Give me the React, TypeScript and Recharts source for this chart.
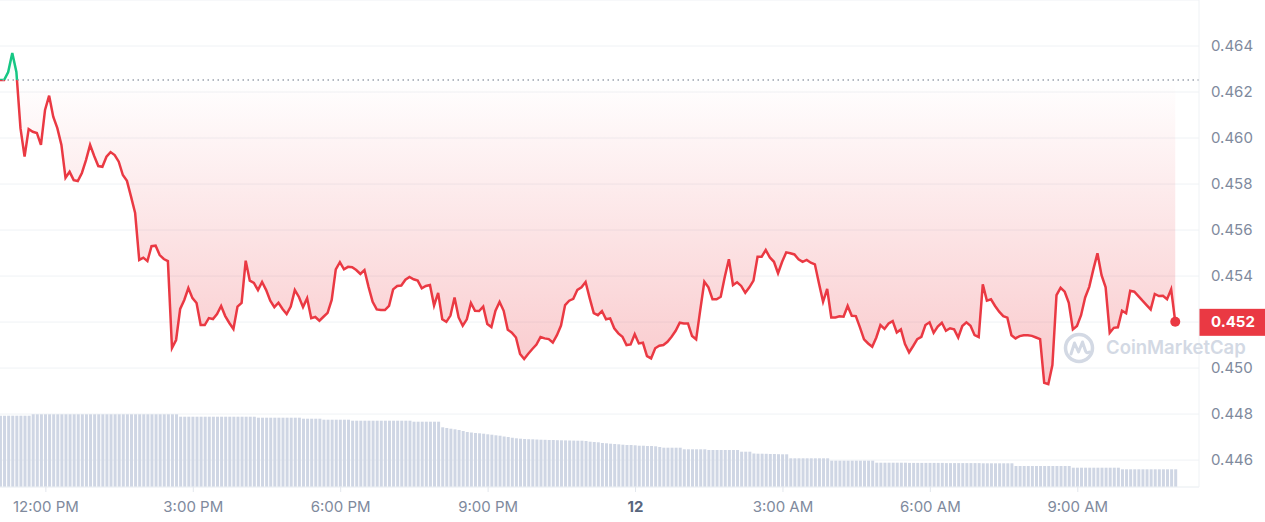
import {
  ComposedChart,
  Area,
  Bar,
  XAxis,
  YAxis,
  CartesianGrid,
  ReferenceLine,
  ReferenceDot,
} from 'recharts';

// 5-minute candles, first one at 11:04 AM (minutes since midnight of day 11)
const startMinute = 664;
const stepMinutes = 5;

const prices = [
  0.46252, 0.46252, 0.46287, 0.4637, 0.46287, 0.46043, 0.45919, 0.46039, 0.46027, 0.46022, 0.4597, 0.46122,
  0.46184, 0.46093, 0.46043, 0.4597, 0.45827, 0.45853, 0.45817, 0.45813, 0.45848, 0.45904, 0.4597, 0.45922,
  0.45878, 0.45875, 0.45919, 0.45939, 0.45926, 0.45897, 0.45839, 0.45814, 0.45745, 0.45674, 0.4547, 0.4548,
  0.45465, 0.4553, 0.45532, 0.45491, 0.45474, 0.45465, 0.45087, 0.45122, 0.45257, 0.45296, 0.45348, 0.45304,
  0.45283, 0.45187, 0.45187, 0.45217, 0.45213, 0.45235, 0.4527, 0.45226, 0.45196, 0.4517, 0.45267, 0.45283,
  0.45467, 0.4538, 0.4537, 0.45339, 0.45374, 0.45339, 0.45293, 0.45265, 0.45284, 0.45257, 0.45235, 0.45267,
  0.45339, 0.45309, 0.45265, 0.45304, 0.45217, 0.45222, 0.45206, 0.45223, 0.4524, 0.45296, 0.45429, 0.4546,
  0.45429, 0.4544, 0.45438, 0.45426, 0.45409, 0.45426, 0.45353, 0.45288, 0.45255, 0.45252, 0.45252, 0.4527,
  0.45342, 0.45357, 0.45359, 0.45384, 0.45396, 0.45386, 0.4538, 0.45347, 0.45357, 0.45361, 0.45272, 0.45327,
  0.45212, 0.45201, 0.45228, 0.45307, 0.4522, 0.45184, 0.45212, 0.45283, 0.45249, 0.45248, 0.45267, 0.45191,
  0.45178, 0.45249, 0.45287, 0.45249, 0.45167, 0.45154, 0.45133, 0.45061, 0.45039, 0.45062, 0.45083, 0.45102,
  0.45135, 0.45129, 0.45126, 0.45111, 0.45143, 0.45185, 0.45274, 0.45293, 0.45301, 0.4534, 0.45351, 0.45374,
  0.45304, 0.45239, 0.4523, 0.45248, 0.45212, 0.45216, 0.45173, 0.45151, 0.45136, 0.451, 0.45103, 0.45147,
  0.45107, 0.4511, 0.45052, 0.45042, 0.45086, 0.45097, 0.451, 0.45114, 0.45136, 0.45162, 0.45197, 0.45194,
  0.45194, 0.45139, 0.45125, 0.45252, 0.45375, 0.45351, 0.45299, 0.45299, 0.4531, 0.45397, 0.45473, 0.45361,
  0.45373, 0.45357, 0.45327, 0.45351, 0.4538, 0.45484, 0.45484, 0.45513, 0.45481, 0.45462, 0.45412, 0.45462,
  0.45503, 0.45499, 0.45494, 0.45473, 0.45462, 0.4547, 0.45458, 0.45451, 0.45368, 0.45288, 0.45344, 0.4522,
  0.4522, 0.45225, 0.45223, 0.4527, 0.45227, 0.45226, 0.45177, 0.45125, 0.45107, 0.45093, 0.45133, 0.45187,
  0.4517, 0.45194, 0.45204, 0.45155, 0.45168, 0.45104, 0.45068, 0.45096, 0.45126, 0.45136, 0.45187, 0.45199,
  0.45153, 0.4518, 0.45197, 0.45162, 0.45173, 0.45168, 0.45133, 0.45183, 0.45199, 0.45184, 0.45143, 0.45135,
  0.45364, 0.45293, 0.45299, 0.4527, 0.45245, 0.45226, 0.45219, 0.45143, 0.45129, 0.45139, 0.45143, 0.45143,
  0.4514, 0.45133, 0.45126, 0.44936, 0.4493, 0.45013, 0.45317, 0.45349, 0.45332, 0.45284, 0.45168, 0.45183,
  0.4523, 0.45307, 0.45353, 0.45429, 0.45499, 0.45404, 0.45351, 0.45153, 0.45175, 0.45177, 0.45249, 0.45238,
  0.45336, 0.45332, 0.45313, 0.45293, 0.45274, 0.45255, 0.45322, 0.45313, 0.45314, 0.45299, 0.45342, 0.45201,
];

// rolling volume (arbitrary units)
const volumes = [
  713, 713, 713, 713, 713, 713, 713, 713, 727, 727, 727, 727,
  727, 727, 727, 727, 727, 727, 727, 727, 727, 727, 727, 727,
  727, 727, 727, 727, 727, 727, 727, 727, 727, 727, 727, 727,
  727, 727, 727, 727, 727, 727, 727, 727, 703, 703, 703, 703,
  703, 703, 703, 703, 703, 703, 703, 703, 703, 703, 703, 703,
  703, 703, 703, 693, 693, 693, 693, 693, 693, 693, 693, 693,
  693, 693, 683, 683, 683, 683, 683, 673, 673, 673, 673, 673,
  673, 673, 663, 663, 663, 663, 663, 663, 663, 663, 663, 663,
  663, 663, 663, 663, 663, 653, 653, 653, 653, 653, 653, 653,
  597, 590, 583, 577, 570, 560, 550, 545, 540, 537, 533, 527,
  523, 517, 513, 505, 500, 493, 487, 483, 480, 478, 477, 475,
  473, 472, 470, 470, 468, 467, 466, 465, 464, 463, 463, 460,
  453, 450, 447, 440, 437, 433, 430, 427, 423, 420, 420, 417,
  413, 413, 410, 410, 407, 400, 393, 393, 393, 393, 393, 377,
  377, 377, 377, 377, 377, 370, 370, 370, 370, 370, 370, 370,
  370, 353, 353, 353, 335, 333, 333, 332, 330, 330, 328, 327,
  327, 287, 287, 287, 287, 287, 287, 287, 287, 287, 287, 263,
  263, 263, 263, 263, 263, 263, 263, 263, 263, 263, 243, 243,
  243, 243, 243, 243, 243, 243, 241, 241, 241, 241, 241, 241,
  241, 241, 241, 239, 239, 239, 239, 239, 239, 239, 239, 239,
  237, 237, 237, 237, 237, 237, 237, 237, 210, 210, 210, 210,
  210, 210, 210, 210, 210, 210, 210, 210, 210, 210, 193, 193,
  193, 193, 193, 193, 193, 193, 193, 193, 193, 193, 177, 177,
  177, 177, 177, 177, 177, 177, 177, 177, 177, 177, 177, 177,
];

const timeTicks = [720, 900, 1080, 1260, 1440, 1620, 1800, 1980];
const timeTickLabels = ['12:00 PM', '3:00 PM', '6:00 PM', '9:00 PM', '12', '3:00 AM', '6:00 AM', '9:00 AM'];
const priceTicks = [0.446, 0.448, 0.45, 0.452, 0.454, 0.456, 0.458, 0.46, 0.462, 0.464];

const timeDomain = [664, 2128];
const priceDomain = [0.44483, 0.466];
const volumeDomain = [0, 4870];

const RED = '#ea3943';
const GREEN = '#16c784';
const GREY = '#808a9d';

const W = 1265;
const H = 522;
const AXIS_H = 35;
const AXIS_W = 66;
const PLOT_H = H - AXIS_H;

const data = prices.map((p, i) => ({
  t: startMinute + i * stepMinutes,
  price: p,
  volume: volumes[i],
}));

const openPrice = prices[0];
const lastPrice = prices[prices.length - 1];
const lastTime = data[data.length - 1].t;
// where the open price sits inside the plot, as a fraction from the top
const openOffset = (priceDomain[1] - openPrice) / (priceDomain[1] - priceDomain[0]);

const TimeTick = ({ x, y, payload }: any) => {
  const label = timeTickLabels[timeTicks.indexOf(payload.value)];
  const isDay = label === '12';
  return (
    <text
      x={x}
      y={y}
      dy={10}
      textAnchor='middle'
      fill={isDay ? '#58667e' : GREY}
      fontSize={15}
      fontWeight={isDay ? 700 : 400}
    >
      {label}
    </text>
  );
};

const PriceTick = ({ x, y, payload }: any) => {
  // the current price tag covers this one
  if (Math.abs(payload.value - lastPrice) < 0.0005) return <g />;
  return (
    <text x={x} y={y} dy={5} textAnchor='start' fill={GREY} fontSize={15}>
      {payload.value.toFixed(3)}
    </text>
  );
};

const PriceTag = (props: any) => {
  const { viewBox } = props;
  const left = viewBox.x + viewBox.width;
  const cy = viewBox.y;
  return (
    <g>
      <rect x={left} y={cy - 13} width={AXIS_W} height={27} fill={RED} />
      <text x={left + 12} y={cy} dy={5.5} fill='#fff' fontSize={15} fontWeight={700}>
        {lastPrice.toFixed(3)}
      </text>
    </g>
  );
};

const Watermark = () => (
  <svg
    width={205}
    height={40}
    style={{ position: 'absolute', left: 1060, top: 327, pointerEvents: 'none' }}
  >
    <circle cx={19} cy={21} r={13.5} fill='none' stroke='#d3d9e4' strokeWidth={3.5} />
    <path
      d='M11 27 L14.5 16 L18.5 25 L22.5 15 L25.5 24 Q27 27 29.5 25'
      fill='none'
      stroke='#d3d9e4'
      strokeWidth={3}
      strokeLinecap='round'
      strokeLinejoin='round'
    />
    <text x={46} y={27} fill='#d3d9e4' fontSize={18.5} fontWeight={600}>
      CoinMarketCap
    </text>
  </svg>
);

const App = () => {
  return (
    <div
      style={{
        position: 'absolute',
        left: 0,
        top: 0,
        width: W,
        height: H,
        background: '#fff',
        fontFamily: 'Inter, sans-serif',
      }}
    >
      <ComposedChart width={W} height={H} data={data} margin={{ top: 0, right: 0, bottom: 0, left: 0 }}>
        <defs>
          <linearGradient id='priceStroke' x1='0' y1='0' x2='0' y2={PLOT_H} gradientUnits='userSpaceOnUse'>
            <stop offset={0} stopColor={GREEN} />
            <stop offset={openOffset} stopColor={GREEN} />
            <stop offset={openOffset} stopColor={RED} />
            <stop offset={1} stopColor={RED} />
          </linearGradient>
          <linearGradient id='priceFill' x1='0' y1='0' x2='0' y2={PLOT_H} gradientUnits='userSpaceOnUse'>
            <stop offset={0} stopColor={GREEN} stopOpacity={0.2} />
            <stop offset={openOffset} stopColor={GREEN} stopOpacity={0} />
            <stop offset={openOffset} stopColor={RED} stopOpacity={0} />
            <stop offset={0.8} stopColor={RED} stopOpacity={0.28} />
            <stop offset={1} stopColor={RED} stopOpacity={0.32} />
          </linearGradient>
        </defs>
        <CartesianGrid vertical={false} stroke='#eff2f5' />
        <XAxis
          dataKey='t'
          type='number'
          domain={timeDomain}
          ticks={timeTicks}
          allowDataOverflow
          height={AXIS_H}
          tickSize={5}
          tickMargin={10}
          tickLine={{ stroke: '#e3e7ed' }}
          axisLine={{ stroke: '#eff2f5' }}
          tick={<TimeTick />}
        />
        <YAxis
          orientation='right'
          width={AXIS_W}
          type='number'
          domain={priceDomain}
          ticks={priceTicks}
          allowDataOverflow
          tickSize={0}
          tickMargin={12}
          tickLine={false}
          axisLine={{ stroke: '#eff2f5' }}
          tick={<PriceTick />}
        />
        <YAxis yAxisId='vol' hide domain={volumeDomain} allowDataOverflow />
        <Bar yAxisId='vol' dataKey='volume' fill='#cfd6e4' barSize={3} isAnimationActive={false} />
        <ReferenceLine y={openPrice} stroke='#9aa1ad' strokeWidth={1.5} strokeDasharray='1.5 3.5' />
        <Area
          type='linear'
          dataKey='price'
          baseValue={openPrice}
          stroke='url(#priceStroke)'
          strokeWidth={2.5}
          fill='url(#priceFill)'
          fillOpacity={1}
          dot={false}
          activeDot={false}
          isAnimationActive={false}
        />
        <ReferenceDot x={lastTime} y={lastPrice} r={5} fill={RED} stroke='none' />
        <ReferenceLine y={lastPrice} stroke='none' label={PriceTag} />
      </ComposedChart>
      <Watermark />
    </div>
  );
};

export default App;
